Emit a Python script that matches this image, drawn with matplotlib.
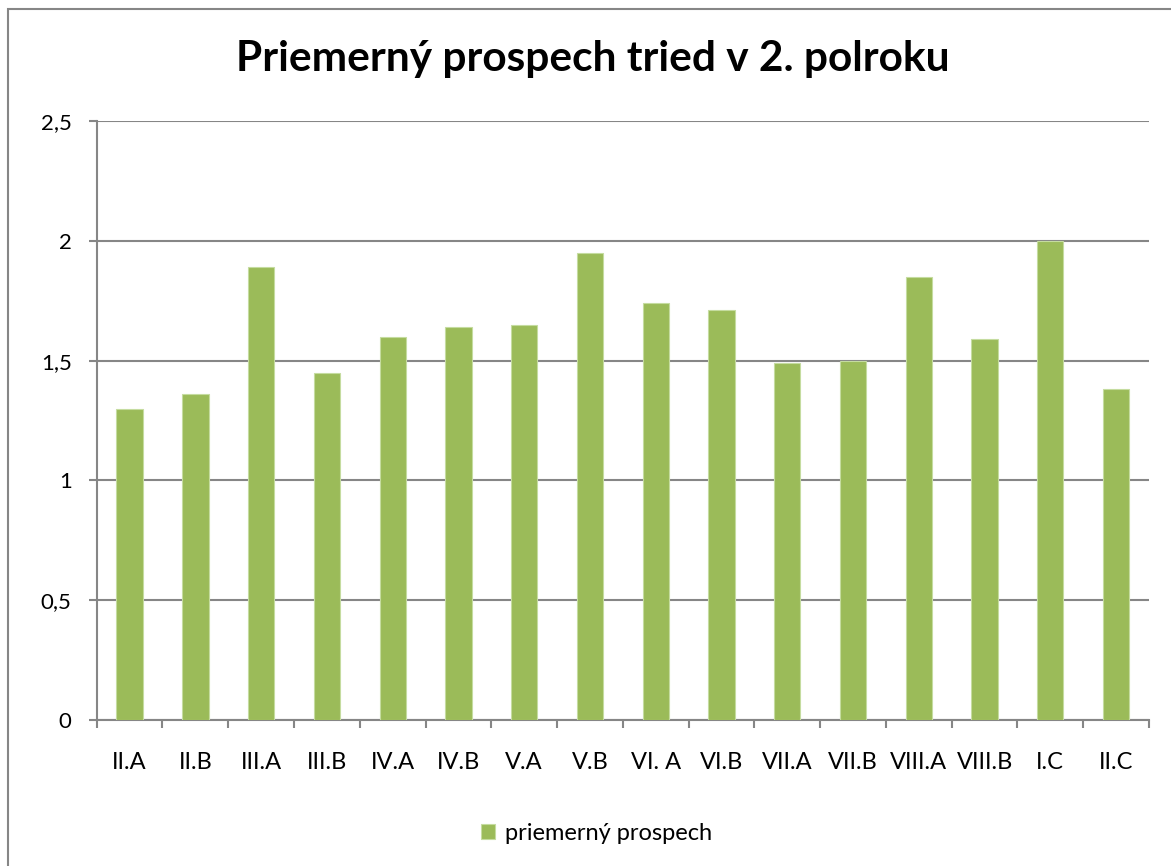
import numpy as np
import matplotlib
matplotlib.use("Agg")
from matplotlib import pyplot as plt
from matplotlib.patches import Rectangle
from matplotlib.ticker import FuncFormatter

plt.rcParams['font.family'] = ['Lato', 'DejaVu Sans']

classes = ['II.A', 'II.B', 'III.A', 'III.B', 'IV.A', 'IV.B', 'V.A', 'V.B',
           'VI. A', 'VI.B', 'VII.A', 'VII.B', 'VIII.A', 'VIII.B', 'I.C', 'II.C']
averages = [1.30, 1.36, 1.89, 1.45, 1.60, 1.64, 1.65, 1.95,
            1.74, 1.71, 1.49, 1.50, 1.85, 1.59, 2.00, 1.38]
y_ticks = [0, 0.5, 1, 1.5, 2, 2.5]

green = '#9bbb59'
grey = '#868686'

fig = plt.figure(figsize=(11.71, 8.66), dpi=100)
ax = fig.add_axes([0.0826, 0.1686, 0.9812 - 0.0826, 0.860 - 0.1686])

# chart area border
fig.patches.append(Rectangle((8 / 1171, -0.1), 1.2, (866 - 9) / 866 + 0.1,
                             transform=fig.transFigure, fill=False,
                             edgecolor=grey, linewidth=1.5))

x = np.arange(len(classes))
ax.bar(x, averages, width=0.4, color=green, edgecolor='#c5dca0', linewidth=0.8,
       label='priemerný prospech', zorder=3)

ax.set_xlim(-0.5, len(classes) - 0.5)
ax.set_ylim(0, 2.5)
ax.set_yticks(y_ticks)
ax.yaxis.set_major_formatter(FuncFormatter(lambda v, p: f'{v:g}'.replace('.', ',')))
ax.yaxis.grid(True, color=grey, linewidth=1.5, zorder=0)

ax.set_xticks(x)
ax.set_xticklabels(classes)
ax.set_xticks(np.arange(len(classes) + 1) - 0.5, minor=True)
ax.tick_params(axis='x', which='major', length=0, pad=23, labelsize=17, colors='black')
ax.tick_params(axis='x', which='minor', length=6, width=1.5, color=grey)
ax.tick_params(axis='y', length=6, width=1.5, color=grey, labelsize=16, pad=12)

for side in ['top', 'right']:
    ax.spines[side].set_visible(False)
for side in ['left', 'bottom']:
    ax.spines[side].set_color(grey)
    ax.spines[side].set_linewidth(1.5)

fig.text(0.506, 0.918, 'Priemerný prospech tried v 2. polroku', ha='center', va='baseline',
         fontsize=30.5, fontweight='bold')

ax.legend(loc='center', bbox_to_anchor=(0.475, -0.19), frameon=False, fontsize=17,
          handlelength=0.6, handleheight=0.6, handletextpad=0.4)

fig.savefig('out.png', dpi=100)
